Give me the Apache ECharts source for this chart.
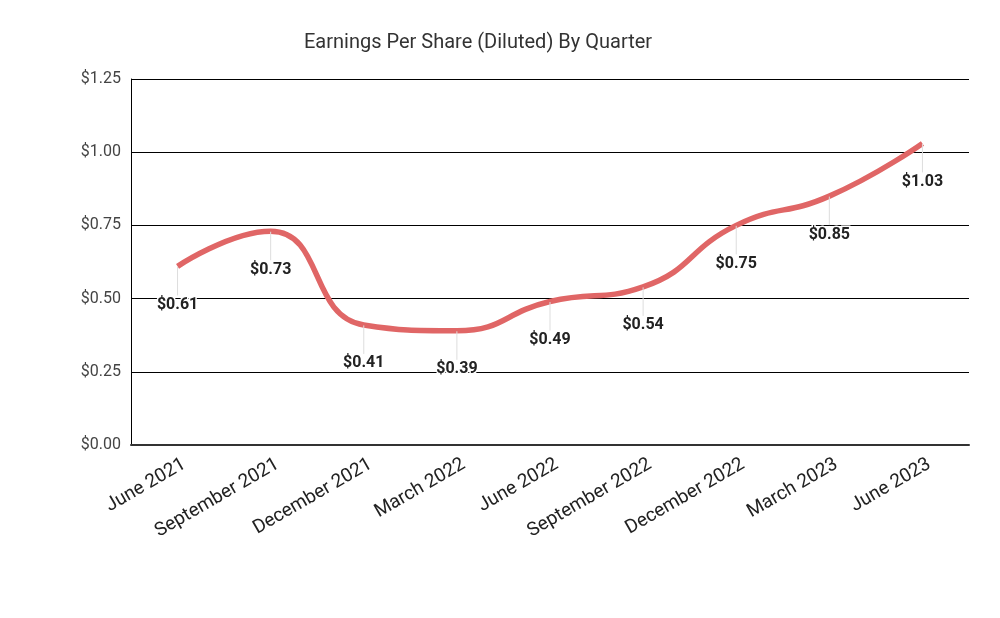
<!DOCTYPE html>
<html>
<head>
<meta charset="utf-8">
<script src="https://cdn.jsdelivr.net/npm/echarts@6/dist/echarts.min.js"></script>
<style>
  html, body { margin: 0; padding: 0; background: #fff; }
  #chart { width: 1000px; height: 618px; }
</style>
</head>
<body>
<div id="chart"></div>
<script>
var quarters = ['June 2021', 'September 2021', 'December 2021', 'March 2022', 'June 2022',
    'September 2022', 'December 2022', 'March 2023', 'June 2023'];
var eps = [0.61, 0.73, 0.41, 0.39, 0.49, 0.54, 0.75, 0.85, 1.03];
var yTicks = [0, 0.25, 0.5, 0.75, 1, 1.25];

var chart = echarts.init(document.getElementById('chart'));
var option = {
    animation: false,
    textStyle: { fontFamily: 'Roboto' },
    title: {
        text: 'Earnings Per Share (Diluted) By Quarter',
        left: 299,
        top: 28,
        textStyle: { fontSize: 20, fontWeight: 'normal', color: '#333', fontFamily: 'Roboto' }
    },
    grid: { left: 131, right: 31, top: 79, bottom: 173 },
    xAxis: {
        type: 'category',
        data: quarters,
        boundaryGap: true,
        axisLine: { show: true, lineStyle: { color: '#333', width: 2 } },
        axisTick: { show: false },
        axisLabel: {
            rotate: 30,
            interval: 0,
            margin: 22,
            fontSize: 19,
            color: '#222',
            fontFamily: 'Roboto',
            padding: [0, -8, 0, 0]
        }
    },
    yAxis: {
        type: 'value',
        min: yTicks[0],
        max: yTicks[yTicks.length - 1],
        interval: 0.25,
        axisLine: { show: true, lineStyle: { color: '#000', width: 1 } },
        axisTick: { show: false },
        splitLine: { lineStyle: { color: '#000', width: 1 } },
        axisLabel: {
            margin: 10,
            fontSize: 16,
            color: '#444',
            fontFamily: 'Roboto',
            formatter: function (v) { return '$' + v.toFixed(2); }
        }
    },
    series: [{
        type: 'line',
        data: eps,
        smooth: 0.5,
        symbol: 'circle',
        symbolSize: 1,
        itemStyle: { color: 'rgba(0,0,0,0)' },
        lineStyle: { color: '#e06666', width: 5.5 },
        label: {
            show: true,
            position: 'bottom',
            distance: 0,
            fontSize: 16,
            fontWeight: 'bold',
            color: '#222',
            textBorderColor: '#fff',
            textBorderWidth: 3,
            formatter: function (p) { return '$' + p.value.toFixed(2); }
        },
        labelLayout: { dy: 30 },
        labelLine: { show: true, lineStyle: { color: '#ddd', width: 1 } }
    }]
};
chart.setOption(option);
</script>
</body>
</html>
